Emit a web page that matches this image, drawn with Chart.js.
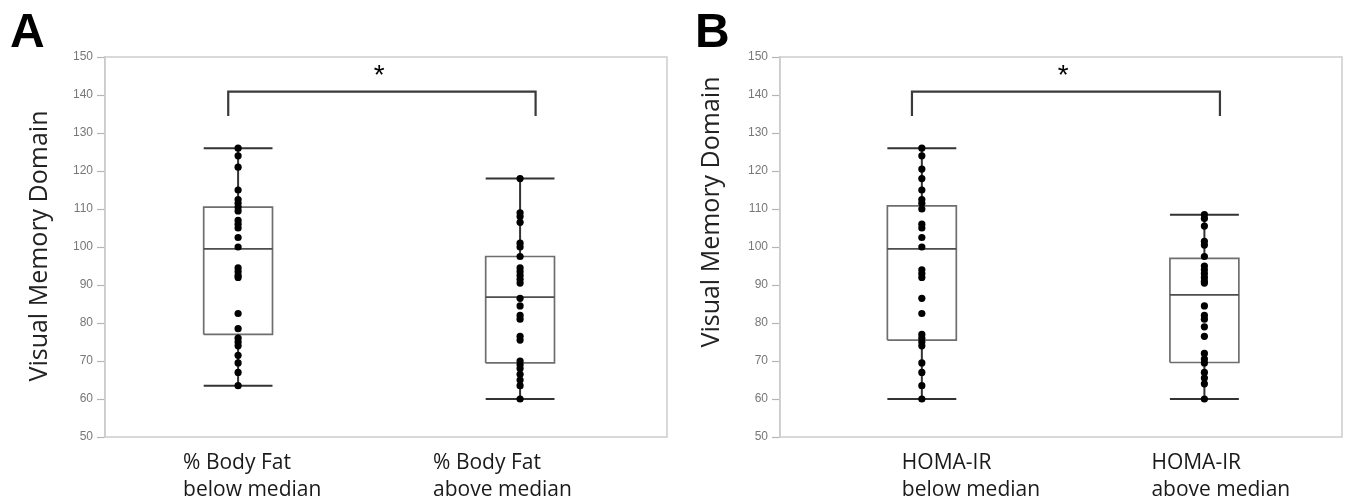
<!DOCTYPE html>
<html>
<head>
<meta charset="utf-8">
<script src="https://cdn.jsdelivr.net/npm/chart.js@4.4.0/dist/chart.umd.min.js"></script>
<style>
  body { margin: 0; background: #fff; }
  .panel { position: absolute; top: 0; width: 675px; height: 504px; }
</style>
</head>
<body>
<div class="panel" style="left:0"><canvas id="chartA" width="675" height="504"></canvas></div>
<div class="panel" style="left:675px"><canvas id="chartB" width="675" height="504"></canvas></div>
<script>
// group labels (two lines each)
const labelsA = [['% Body Fat', 'below median'], ['% Body Fat', 'above median']];
const labelsB = [['HOMA-IR', 'below median'], ['HOMA-IR', 'above median']];
const yTitle = 'Visual Memory Domain';

// box stats: [min, q1, median, q3, max]
const boxA = [[63.5, 77, 99.5, 110.5, 126], [60, 69.5, 86.8, 97.5, 118]];
const boxB = [[60, 75.5, 99.5, 110.8, 126], [60, 69.6, 87.4, 97, 108.5]];

// individual scores
const dotsA1 = [126, 124, 121, 115, 112.5, 111.5, 110.5, 109.5, 107, 106, 105, 102.5, 100, 94.5, 93.5, 92.5, 92, 82.5, 78.5, 76, 75, 74, 71.5, 69.5, 67, 63.5];
const dotsA2 = [118, 109, 108, 106.5, 101, 100, 97.5, 94.5, 93.5, 92.5, 91.5, 90.5, 86.5, 84.5, 82, 81, 76.5, 75.5, 70, 69, 68, 66.5, 65, 63.5, 60];
const dotsB1 = [126, 124, 120.5, 118, 115, 112.5, 111.5, 110, 106, 105, 102.5, 100, 94, 93, 92, 86.5, 82.5, 77, 76, 75, 74, 69.5, 67, 63.5, 60];
const dotsB2 = [108.5, 107.5, 105.5, 101.5, 100.5, 97.5, 95, 94, 93, 92, 91, 90.5, 84.5, 82, 81, 79, 76.5, 72, 70.5, 69.5, 67, 65.5, 64, 60];

// significance bracket (x from group 1 to group 2, y low/high) and star
const bracketX = [0.965, 2.055];
const bracketY = [134.5, 140.9];
const starPos = [1.5, 146.6];

const yTicks = [50, 60, 70, 80, 90, 100, 110, 120, 130, 140, 150];

const BOX_HALF = 0.122;
const FONT = '"Open Sans", sans-serif';
const TICKFONT = '"Liberation Sans", Arial, sans-serif';

function buildLines(stats) {
  const box = [], whisk = [], med = [];
  stats.forEach((s, i) => {
    const x = i + 1;
    const [lo, q1, md, q3, hi] = s;
    box.push({x: x - BOX_HALF, y: q1}, {x: x + BOX_HALF, y: q1}, {x: x + BOX_HALF, y: q3},
             {x: x - BOX_HALF, y: q3}, {x: x - BOX_HALF, y: q1}, {x: x, y: null});
    whisk.push({x: x, y: q3}, {x: x, y: hi}, {x: x, y: null},
               {x: x - BOX_HALF, y: hi}, {x: x + BOX_HALF, y: hi}, {x: x, y: null},
               {x: x, y: q1}, {x: x, y: lo}, {x: x, y: null},
               {x: x - BOX_HALF, y: lo}, {x: x + BOX_HALF, y: lo}, {x: x, y: null});
    med.push({x: x - BOX_HALF, y: md}, {x: x + BOX_HALF, y: md}, {x: x, y: null});
  });
  return {box, whisk, med};
}

const annotate = {
  id: 'annotate',
  afterDraw(chart) {
    const o = chart.options.plugins.annotate;
    const {ctx, chartArea: a} = chart;
    const xs = chart.scales.x, ys = chart.scales.y;
    ctx.save();
    // frame
    ctx.strokeStyle = '#cdcdcd';
    ctx.lineWidth = 1.5;
    ctx.strokeRect(a.left, a.top, a.right - a.left, a.bottom - a.top);
    // panel letter
    ctx.fillStyle = '#000';
    ctx.font = 'bold 48px "Liberation Sans", Arial, sans-serif';
    ctx.textBaseline = 'alphabetic';
    ctx.textAlign = 'left';
    ctx.fillText(o.letter, o.letterX, 47);
    // star
    ctx.font = '28px "Liberation Sans", Arial, sans-serif';
    ctx.textAlign = 'center';
    ctx.fillText('*', xs.getPixelForValue(starPos[0]), ys.getPixelForValue(starPos[1]) + 14);
    // y-axis title
    ctx.save();
    ctx.translate(o.titleX, o.titleY);
    ctx.rotate(-Math.PI / 2);
    ctx.font = '25px ' + FONT;
    ctx.fillStyle = '#222';
    ctx.textAlign = 'center';
    ctx.textBaseline = 'middle';
    ctx.fillText(yTitle, 0, 0);
    ctx.restore();
    // group labels
    ctx.font = '21px ' + FONT;
    ctx.textAlign = 'left';
    ctx.textBaseline = 'middle';
    ctx.fillStyle = '#1a1a1a';
    o.labels.forEach((lines, i) => {
      const x0 = xs.getPixelForValue(i + 1) + o.labelShift[i];
      lines.forEach((t, j) => ctx.fillText(t, x0, 463 + j * 27));
    });
    ctx.restore();
  }
};

function makeChart(id, opts, labels, stats, dots) {
  const L = buildLines(stats);
  const dotData = [];
  dots.forEach((arr, i) => arr.forEach(v => dotData.push({x: i + 1, y: v})));
  const bracket = [{x: bracketX[0], y: bracketY[0]}, {x: bracketX[0], y: bracketY[1]},
                   {x: bracketX[1], y: bracketY[1]}, {x: bracketX[1], y: bracketY[0]}];
  return new Chart(document.getElementById(id), {
    type: 'scatter',
    data: {
      datasets: [
        { data: dotData, pointRadius: 3.6, pointBackgroundColor: '#000', pointBorderWidth: 0, showLine: false },
        { data: L.med, showLine: true, borderColor: '#4d4d4d', borderWidth: 1.8, pointRadius: 0, spanGaps: false },
        { data: L.whisk, showLine: true, borderColor: '#333', borderWidth: 2, pointRadius: 0, spanGaps: false },
        { data: L.box, showLine: true, borderColor: '#6e6e6e', borderWidth: 1.7, pointRadius: 0, spanGaps: false },
        { data: bracket, showLine: true, borderColor: '#3a3a3a', borderWidth: 2.2, pointRadius: 0 }
      ]
    },
    options: {
      responsive: false,
      animation: false,
      layout: { padding: { left: 0, top: 57, right: 8, bottom: 67 } },
      plugins: {
        legend: { display: false },
        tooltip: { enabled: false },
        annotate: Object.assign({ labels: labels }, opts)
      },
      scales: {
        x: { type: 'linear', min: opts.xMin, max: opts.xMax, display: false },
        y: {
          min: 50, max: 150,
          afterBuildTicks: s => { s.ticks = yTicks.map(v => ({value: v})); },
          afterFit: s => { s.width = 105; },
          border: { color: '#c8c8c8', width: 1.5 },
          grid: { drawOnChartArea: false, tickLength: 8, tickColor: '#b5b5b5', tickWidth: 1.2 },
          ticks: { color: '#777', padding: 4, font: { family: TICKFONT, size: 12 } }
        }
      }
    },
    plugins: [annotate]
  });
}

makeChart('chartA', { letter: 'A', letterX: 10, titleX: 40, titleY: 246, xMin: 0.528, xMax: 2.521, labelShift: [-55, -87] },
  labelsA, boxA, [dotsA1, dotsA2]);
makeChart('chartB', { letter: 'B', letterX: 20, titleX: 37, titleY: 212, xMin: 0.498, xMax: 2.487, labelShift: [-20, -53] },
  labelsB, boxB, [dotsB1, dotsB2]);
</script>
</body>
</html>
